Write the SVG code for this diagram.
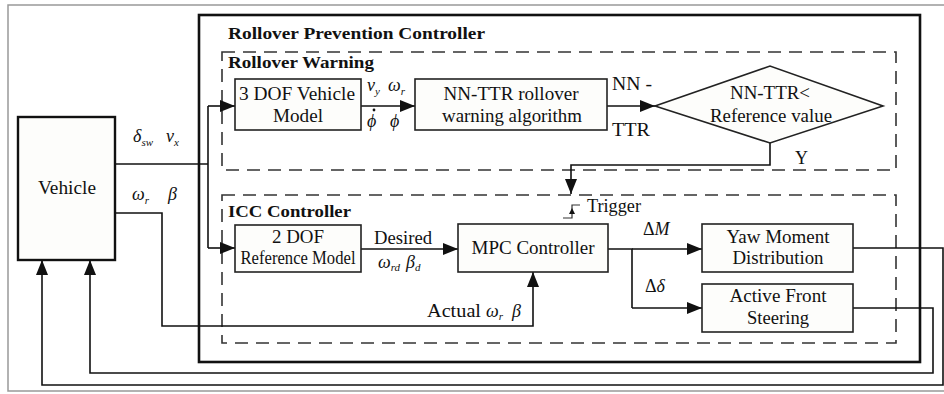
<svg xmlns="http://www.w3.org/2000/svg" width="944" height="394" viewBox="0 0 944 394" font-family="'Liberation Serif', 'Times New Roman', Times, serif">
  <style>
    text { font-family: 'Liberation Serif', 'Times New Roman', Times, serif; }
    .t { font-size: 18px; fill: #111; }
    .b { font-size: 17px; font-weight: bold; fill: #111; }
    .m { font-size: 18px; font-style: italic; fill: #111; }
    .s { font-size: 11px; }
    .box { fill: #fdfdfb; stroke: #222; stroke-width: 1.6; }
    .dash { fill: none; stroke: #333; stroke-width: 1.6; stroke-dasharray: 13 8; }
    .w { fill: none; stroke: #111; stroke-width: 1.6; }
    .wa { fill: none; stroke: #111; stroke-width: 1.6; marker-end: url(#ah); }
  </style>
  <defs>
    <marker id="ah" markerUnits="userSpaceOnUse" markerWidth="16" markerHeight="12" refX="15" refY="6" orient="auto">
      <path d="M0,0 L15,6 L0,12 Z" fill="#111"/>
    </marker>
  </defs>

  <rect width="944" height="394" fill="#ffffff"/>
  <!-- outer frame -->
  <rect x="8" y="5" width="945" height="386" fill="none" stroke="#999" stroke-width="1.5"/>

  <!-- controller enclosure and sub-sections -->
  <g id="controller">
    <rect x="199" y="15" width="721" height="347" fill="none" stroke="#111" stroke-width="2.6"/>
    <text class="b" x="228" y="39" textLength="257" lengthAdjust="spacingAndGlyphs">Rollover Prevention  Controller</text>
  </g>
  <g id="rollover-warning">
    <rect class="dash" x="222" y="52" width="674" height="118"/>
    <text class="b" x="228" y="68" textLength="146" lengthAdjust="spacingAndGlyphs">Rollover Warning</text>
  </g>
  <g id="icc-controller">
    <rect class="dash" x="222" y="195" width="674" height="148"/>
    <text class="b" x="228" y="217" textLength="123" lengthAdjust="spacingAndGlyphs">ICC Controller</text>
  </g>

  <!-- connectors -->
  <g id="connectors">
    <polyline class="w" points="115,164 208,164"/>
    <polyline class="w" points="208,106 208,248"/>
    <polyline class="wa" points="208,106 235,106"/>
    <polyline class="wa" points="208,248 235,248"/>
    <polyline class="wa" points="115,213 162,213 162,326 533,326 533,272"/>
    <polyline class="wa" points="361,106 415,106"/>
    <polyline class="wa" points="607,106 655,106"/>
    <polyline class="wa" points="770,143 770,165 571,165 571,194"/>
    <polyline class="wa" points="361,249 458,249"/>
    <polyline class="w" points="608,249 632,249 632,308"/>
    <polyline class="wa" points="632,249 702,249"/>
    <polyline class="wa" points="632,308 702,308"/>
    <polyline class="wa" points="853,248 943,248 943,385 42,385 42,260"/>
    <polyline class="wa" points="853,308 933,308 933,373 90,373 90,260"/>
  </g>

  <!-- signal labels -->
  <g id="labels">
    <text class="m" x="133" y="142">δ<tspan class="s" dy="4">sw</tspan></text>
    <text class="m" x="166" y="142">v<tspan class="s" dy="4">x</tspan></text>
    <text class="m" x="132" y="200">ω<tspan class="s" dy="4">r</tspan></text>
    <text class="m" x="168" y="200">β</text>
    <text class="m" x="367" y="91">v<tspan class="s" dy="4">y</tspan></text>
    <text class="m" x="388" y="91">ω<tspan class="s" dy="4">r</tspan></text>
    <text class="m" x="367" y="127">ϕ</text>
    <!-- time-derivative dot over the roll angle -->
    <circle cx="374" cy="110" r="1.4" fill="#111"/>
    <text class="m" x="390" y="127">ϕ</text>
    <text class="t" x="612" y="90" textLength="40" lengthAdjust="spacingAndGlyphs">NN -</text>
    <text class="t" x="612" y="136" textLength="38" lengthAdjust="spacingAndGlyphs">TTR</text>
    <text class="t" x="795" y="164">Y</text>
    <text class="t" x="403" y="244" text-anchor="middle" textLength="58" lengthAdjust="spacingAndGlyphs">Desired</text>
    <text class="m" x="378" y="268">ω<tspan class="s" dy="3">rd</tspan><tspan dx="6" dy="-3">β</tspan><tspan class="s" dy="3">d</tspan></text>
    <text class="t" x="427" y="317" textLength="54" lengthAdjust="spacingAndGlyphs">Actual</text>
    <text class="m" x="486" y="317">ω<tspan class="s" dy="3">r</tspan></text>
    <text class="m" x="512" y="317">β</text>
    <text class="t" x="643" y="235">Δ<tspan font-style="italic">M</tspan></text>
    <text class="t" x="645" y="292">Δ<tspan font-style="italic">δ</tspan></text>
    <!-- trigger edge symbol -->
    <polyline points="563,218 572,218 572,205 580,205" fill="none" stroke="#333" stroke-width="1.2"/>
    <path d="M572,208 L575,214 L569,214 Z" fill="#111"/>
    <text class="t" x="587" y="212" textLength="54" lengthAdjust="spacingAndGlyphs">Trigger</text>
  </g>

  <g id="vehicle">
    <rect x="18" y="117" width="97" height="143" fill="#fdfdfb" stroke="#111" stroke-width="2.4"/>
    <text class="t" x="67" y="194" text-anchor="middle" textLength="58" lengthAdjust="spacingAndGlyphs">Vehicle</text>
  </g>
  <g id="dof3">
    <rect class="box" x="235" y="79" width="126" height="51"/>
    <text class="t" x="297" y="100" text-anchor="middle" textLength="116" lengthAdjust="spacingAndGlyphs">3 DOF Vehicle</text>
    <text class="t" x="298" y="122" text-anchor="middle" textLength="50" lengthAdjust="spacingAndGlyphs">Model</text>
  </g>
  <g id="nn-ttr">
    <rect class="box" x="415" y="79" width="192" height="51"/>
    <text class="t" x="511" y="100" text-anchor="middle" textLength="135" lengthAdjust="spacingAndGlyphs">NN-TTR rollover</text>
    <text class="t" x="512" y="122" text-anchor="middle" textLength="140" lengthAdjust="spacingAndGlyphs">warning algorithm</text>
  </g>
  <g id="decision">
    <polygon points="655,106 770,66 883,106 770,143" fill="#fdfdfb" stroke="#222" stroke-width="1.6"/>
    <text class="t" x="770" y="99" text-anchor="middle" textLength="80" lengthAdjust="spacingAndGlyphs">NN-TTR&lt;</text>
    <text class="t" x="771" y="122" text-anchor="middle" textLength="122" lengthAdjust="spacingAndGlyphs">Reference value</text>
  </g>
  <g id="dof2">
    <rect class="box" x="235" y="225" width="126" height="47"/>
    <text class="t" x="298" y="243" text-anchor="middle" textLength="52" lengthAdjust="spacingAndGlyphs">2 DOF</text>
    <text class="t" x="298" y="264" text-anchor="middle" font-size="16.5" textLength="115" lengthAdjust="spacingAndGlyphs">Reference Model</text>
  </g>
  <g id="mpc">
    <rect class="box" x="458" y="224" width="150" height="48"/>
    <text class="t" x="533" y="254" text-anchor="middle" textLength="123" lengthAdjust="spacingAndGlyphs">MPC Controller</text>
  </g>
  <g id="yaw-moment">
    <rect class="box" x="702" y="224" width="151" height="48"/>
    <text class="t" x="778" y="243" text-anchor="middle" textLength="103" lengthAdjust="spacingAndGlyphs">Yaw Moment</text>
    <text class="t" x="778" y="264" text-anchor="middle" textLength="91" lengthAdjust="spacingAndGlyphs">Distribution</text>
  </g>
  <g id="afs">
    <rect class="box" x="702" y="284" width="151" height="48"/>
    <text class="t" x="778" y="302" text-anchor="middle" textLength="97" lengthAdjust="spacingAndGlyphs">Active Front</text>
    <text class="t" x="778" y="324" text-anchor="middle" textLength="62" lengthAdjust="spacingAndGlyphs">Steering</text>
  </g>
</svg>
